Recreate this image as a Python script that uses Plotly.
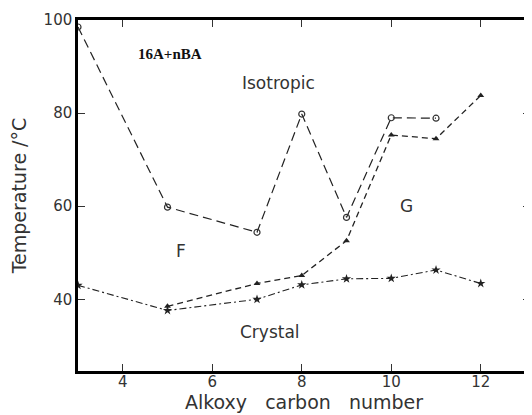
import plotly.graph_objects as go

# Data
iso_x = [3, 5, 7, 8, 9, 10, 11]
iso_y = [98.5, 59.8, 54.4, 79.8, 57.6, 79.0, 78.9]

tri_x = [5, 7, 8, 9, 10, 11, 12]
tri_y = [38.5, 43.4, 45.1, 52.6, 75.3, 74.5, 83.8]

star_x = [3, 5, 7, 8, 9, 10, 11, 12]
star_y = [43.0, 37.6, 40.0, 43.1, 44.4, 44.5, 46.3, 43.4]

x_ticks = [4, 6, 8, 10, 12]
y_ticks = [40, 60, 80, 100]

SANS = "DejaVu Sans, Verdana, sans-serif"
TXT = "#333"

fig = go.Figure()
fig.add_trace(go.Scatter(
    x=star_x, y=star_y, mode="lines+markers",
    line=dict(color="#222", width=1.1, dash="7px,3px,2px,3px"),
    marker=dict(symbol="star", size=7, color="#222"),
))
fig.add_trace(go.Scatter(
    x=tri_x, y=tri_y, mode="lines+markers",
    line=dict(color="#222", width=1.3, dash="6px,4px"),
    marker=dict(symbol="triangle-up", size=6, color="#222"),
))
fig.add_trace(go.Scatter(
    x=iso_x, y=iso_y, mode="lines+markers",
    line=dict(color="#222", width=1.2, dash="9px,5px"),
    marker=dict(symbol="circle-open", size=6, color="#333", line=dict(width=1.2)),
))

font_main = dict(family=SANS, size=17, color=TXT)
annos = [
    dict(x=5.06, y=92.6, text="<b>16A+nBA</b>", font=dict(family="Liberation Serif, Times New Roman, serif", size=15, color="#111")),
    dict(x=7.47, y=86.5, text="Isotropic", font=font_main),
    dict(x=5.3, y=50.4, text="F", font=font_main),
    dict(x=10.33, y=60.0, text="G", font=font_main),
    dict(x=7.3, y=32.9, text="Crystal", font=font_main),
]
for a in annos:
    fig.add_annotation(x=a["x"], y=a["y"], text=a["text"], showarrow=False, font=a["font"])

axis_common = dict(
    showline=True, linecolor="black", linewidth=2.5, mirror="ticks",
    ticks="inside", ticklen=7, tickwidth=1, tickcolor="#333",
    showgrid=False, zeroline=False,
    tickfont=dict(family=SANS, size=15, color=TXT),
)
NB = "\u00a0"
fig.update_xaxes(range=[3, 13.1], tickvals=x_ticks, ticktext=[str(v) for v in x_ticks],
                 ticklabelstandoff=-5,
                 title=dict(text="Alkoxy" + NB * 3 + "carbon" + NB * 3 + "number", standoff=1,
                            font=dict(family=SANS, size=19, color=TXT)),
                 **axis_common)
fig.update_yaxes(range=[24.6, 100], tickvals=y_ticks, ticktext=[str(v) for v in y_ticks],
                 title=dict(text="Temperature" + NB + "/°C", standoff=14,
                            font=dict(family=SANS, size=19, color=TXT)),
                 **axis_common)

fig.update_layout(
    width=524, height=407,
    margin=dict(l=70, r=2, t=12, b=44, autoexpand=False),
    paper_bgcolor="white", plot_bgcolor="white",
    showlegend=False,
)
fig.write_html("out.html")
